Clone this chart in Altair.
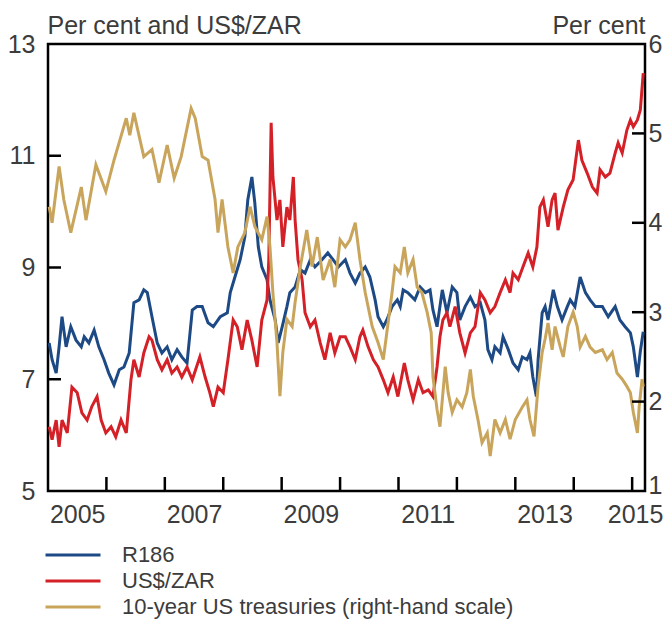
import altair as alt
import pandas as pd

# ---------------- data ----------------
r186_year = [2005.02, 2005.07, 2005.14, 2005.19, 2005.24, 2005.31, 2005.39, 2005.48, 2005.57, 2005.62,
             2005.70, 2005.79, 2005.87, 2005.96, 2006.04, 2006.13, 2006.22, 2006.30, 2006.39, 2006.47,
             2006.56, 2006.64, 2006.70, 2006.78, 2006.87, 2006.95, 2007.04, 2007.12, 2007.21, 2007.29,
             2007.38, 2007.47, 2007.55, 2007.64, 2007.74, 2007.83, 2007.95, 2008.07, 2008.12, 2008.20,
             2008.29, 2008.37, 2008.42, 2008.49, 2008.54, 2008.60, 2008.66, 2008.75, 2008.80, 2008.89,
             2008.94, 2009.01, 2009.09, 2009.14, 2009.23, 2009.32, 2009.40, 2009.49, 2009.57, 2009.69,
             2009.79, 2009.88, 2009.97, 2010.09, 2010.17, 2010.26, 2010.34, 2010.43, 2010.51, 2010.60,
             2010.65, 2010.74, 2010.80, 2010.89, 2010.98, 2011.03, 2011.08, 2011.16, 2011.28, 2011.37,
             2011.46, 2011.54, 2011.59, 2011.66, 2011.75, 2011.83, 2011.92, 2012.00, 2012.05, 2012.14,
             2012.23, 2012.31, 2012.40, 2012.48, 2012.53, 2012.60, 2012.65, 2012.74, 2012.79, 2012.88,
             2012.96, 2013.05, 2013.12, 2013.20, 2013.25, 2013.30, 2013.36, 2013.39, 2013.46, 2013.51,
             2013.56, 2013.65, 2013.72, 2013.80, 2013.89, 2013.94, 2014.02, 2014.11, 2014.20, 2014.28,
             2014.37, 2014.49, 2014.59, 2014.71, 2014.79, 2014.88, 2014.97, 2015.02, 2015.09, 2015.14,
             2015.19]
r186_value = [7.65, 7.35, 7.11, 7.58, 8.12, 7.58, 7.94, 7.70, 7.58, 7.76,
              7.65, 7.88, 7.58, 7.35, 7.11, 6.90, 7.17, 7.22, 7.47, 8.37,
              8.42, 8.60, 8.55, 8.12, 7.65, 7.47, 7.58, 7.35, 7.53, 7.40,
              7.29, 8.24, 8.30, 8.30, 8.01, 7.94, 8.12, 8.19, 8.55, 8.83,
              9.14, 9.55, 10.21, 10.62, 10.16, 9.37, 9.01, 8.78, 8.42, 8.06,
              7.65, 7.94, 8.30, 8.55, 8.65, 8.96, 8.90, 9.14, 9.01, 9.14,
              9.26, 9.14, 9.01, 9.14, 8.90, 8.72, 8.90, 9.01, 8.83, 8.42,
              8.12, 7.94, 8.06, 8.30, 8.42, 8.30, 8.60, 8.55, 8.42, 8.65,
              8.55, 8.60, 8.24, 7.94, 8.60, 8.19, 8.65, 8.55, 8.06, 8.30,
              8.47, 8.30, 8.37, 8.06, 7.53, 7.35, 7.58, 7.47, 7.76, 7.53,
              7.29, 7.17, 7.40, 7.35, 7.47, 7.04, 6.69, 7.35, 8.19, 8.30,
              8.06, 8.60, 8.30, 8.06, 8.30, 8.42, 8.30, 8.83, 8.55, 8.42,
              8.30, 8.30, 8.12, 8.30, 8.06, 7.94, 7.83, 7.58, 7.04, 7.50,
              7.85]

zar_year = [2005.02, 2005.07, 2005.14, 2005.19, 2005.24, 2005.33, 2005.41, 2005.50, 2005.58, 2005.67,
            2005.75, 2005.84, 2005.91, 2005.99, 2006.08, 2006.16, 2006.25, 2006.34, 2006.42, 2006.47,
            2006.56, 2006.64, 2006.73, 2006.78, 2006.87, 2006.95, 2007.04, 2007.12, 2007.21, 2007.29,
            2007.38, 2007.47, 2007.60, 2007.69, 2007.77, 2007.83, 2007.91, 2008.00, 2008.08, 2008.17,
            2008.24, 2008.32, 2008.41, 2008.49, 2008.58, 2008.66, 2008.75, 2008.78, 2008.82, 2008.85,
            2008.92, 2008.97, 2009.02, 2009.09, 2009.14, 2009.20, 2009.23, 2009.28, 2009.35, 2009.40,
            2009.49, 2009.57, 2009.66, 2009.74, 2009.83, 2009.91, 2010.00, 2010.09, 2010.17, 2010.26,
            2010.34, 2010.39, 2010.48, 2010.57, 2010.65, 2010.74, 2010.82, 2010.91, 2010.99, 2011.10,
            2011.16, 2011.25, 2011.34, 2011.42, 2011.51, 2011.59, 2011.66, 2011.71, 2011.76, 2011.83,
            2011.88, 2011.97, 2012.05, 2012.14, 2012.23, 2012.31, 2012.40, 2012.48, 2012.57, 2012.65,
            2012.74, 2012.83, 2012.91, 2012.96, 2013.05, 2013.13, 2013.22, 2013.30, 2013.37, 2013.42,
            2013.48, 2013.56, 2013.63, 2013.68, 2013.73, 2013.82, 2013.90, 2013.99, 2014.08, 2014.14,
            2014.23, 2014.32, 2014.40, 2014.45, 2014.54, 2014.62, 2014.71, 2014.76, 2014.83, 2014.91,
            2014.97, 2015.02, 2015.09, 2015.14, 2015.19]
zar_value = [6.15, 5.92, 6.27, 5.79, 6.27, 6.04, 6.86, 6.76, 6.40, 6.27,
             6.51, 6.69, 6.27, 6.04, 6.15, 5.97, 6.27, 6.04, 6.99, 7.35,
             7.04, 7.47, 7.76, 7.70, 7.35, 7.17, 7.35, 7.11, 7.22, 7.04,
             7.22, 6.99, 7.40, 7.04, 6.76, 6.51, 6.86, 6.76, 7.35, 8.06,
             7.94, 7.53, 8.06, 7.70, 7.22, 8.06, 8.42, 9.14, 11.59, 10.62,
             9.85, 10.21, 9.37, 10.08, 9.85, 10.62, 9.85, 9.14, 8.78, 8.19,
             7.94, 8.06, 7.65, 7.35, 7.83, 7.47, 7.76, 7.76, 7.58, 7.35,
             7.76, 7.88, 7.58, 7.35, 7.22, 6.99, 6.76, 7.04, 6.69, 7.29,
             6.99, 6.63, 6.99, 6.76, 6.81, 6.69, 7.22, 7.76, 8.06, 8.19,
             7.94, 8.30, 7.83, 7.47, 7.83, 7.94, 8.55, 8.42, 8.19, 8.30,
             8.55, 8.78, 8.55, 8.90, 8.78, 9.01, 9.26, 9.01, 9.37, 10.08,
             10.21, 9.73, 10.21, 10.33, 9.67, 10.08, 10.39, 10.57, 11.28, 10.92,
             10.69, 10.44, 10.33, 10.75, 10.62, 10.69, 11.05, 11.23, 11.05, 11.46,
             11.64, 11.52, 11.64, 11.82, 12.48]

ust_year = [2005.02, 2005.07, 2005.19, 2005.27, 2005.39, 2005.57, 2005.65, 2005.82, 2005.99, 2006.13,
            2006.34, 2006.40, 2006.47, 2006.64, 2006.78, 2006.90, 2007.04, 2007.16, 2007.28, 2007.45,
            2007.52, 2007.64, 2007.74, 2007.86, 2007.91, 2007.98, 2008.08, 2008.17, 2008.25, 2008.37,
            2008.46, 2008.54, 2008.66, 2008.75, 2008.80, 2008.85, 2008.92, 2008.97, 2009.02, 2009.09,
            2009.18, 2009.23, 2009.32, 2009.43, 2009.52, 2009.61, 2009.71, 2009.83, 2009.91, 2010.00,
            2010.09, 2010.17, 2010.26, 2010.34, 2010.43, 2010.55, 2010.65, 2010.74, 2010.80, 2010.89,
            2010.94, 2011.03, 2011.10, 2011.16, 2011.25, 2011.32, 2011.40, 2011.49, 2011.56, 2011.59,
            2011.66, 2011.71, 2011.80, 2011.85, 2011.92, 2012.00, 2012.09, 2012.17, 2012.23, 2012.28,
            2012.36, 2012.43, 2012.52, 2012.57, 2012.65, 2012.74, 2012.83, 2012.91, 2013.00, 2013.12,
            2013.20, 2013.25, 2013.32, 2013.39, 2013.46, 2013.51, 2013.56, 2013.63, 2013.68, 2013.77,
            2013.82, 2013.90, 2013.99, 2014.06, 2014.11, 2014.20, 2014.28, 2014.37, 2014.49, 2014.57,
            2014.66, 2014.74, 2014.83, 2014.91, 2014.97, 2015.02, 2015.09, 2015.12, 2015.17, 2015.19]
ust_value = [4.18, 4.00, 4.63, 4.26, 3.89, 4.40, 4.03, 4.65, 4.35, 4.70,
             5.17, 4.98, 5.23, 4.74, 4.82, 4.45, 4.87, 4.50, 4.74, 5.28,
             5.17, 4.74, 4.70, 4.26, 3.89, 4.26, 3.73, 3.44, 3.73, 3.89,
             4.18, 3.96, 3.81, 4.07, 3.73, 3.22, 2.66, 2.06, 2.55, 2.92,
             2.84, 3.11, 3.51, 3.92, 3.51, 3.84, 3.36, 3.59, 3.28, 3.81,
             3.73, 3.81, 4.00, 3.59, 3.22, 2.84, 2.66, 2.47, 2.77, 3.22,
             3.51, 3.44, 3.73, 3.44, 3.59, 3.28, 3.22, 3.00, 2.77, 2.28,
             1.91, 1.72, 2.39, 2.10, 1.88, 2.02, 1.94, 2.10, 2.36, 2.06,
             1.80, 1.54, 1.65, 1.39, 1.80, 1.65, 1.80, 1.58, 1.80, 1.94,
             2.02, 1.80, 1.61, 2.17, 2.55, 2.70, 2.88, 2.58, 2.84, 2.61,
             2.50, 2.84, 3.00, 2.84, 2.61, 2.73, 2.61, 2.55, 2.58, 2.47,
             2.55, 2.32, 2.25, 2.17, 2.10, 1.88, 1.65, 1.94, 2.25, 2.17]

series_names = ["R186", "US$/ZAR", "10-year US treasuries (right-hand scale)"]
series_colors = ["#1d4a85", "#d42027", "#c9a55c"]

left_axis_labels = [5, 7, 9, 11, 13]
left_inner_ticks = [7, 9, 11]
right_axis_labels = [1, 2, 3, 4, 5, 6]
right_inner_ticks = [2, 3, 4, 5]
year_ticks = [2006, 2007, 2008, 2009, 2010, 2011, 2012, 2013, 2014, 2015]
year_label_pos = [2005.5, 2007.5, 2009.5, 2011.5, 2013.5, 2015.05]

# ---------------- layout / style ----------------
W, H = 597, 447
TICK = 13
FONT = "Liberation Sans"
TXT = "#3c3c3c"

df_r186 = pd.DataFrame({"year": r186_year, "value": r186_value, "series": series_names[0]})
df_zar = pd.DataFrame({"year": zar_year, "value": zar_value, "series": series_names[1]})
df_ust = pd.DataFrame({"year": ust_year, "value": ust_value, "series": series_names[2]})

x_scale = alt.Scale(domain=[2005.0, 2015.22], nice=False, zero=False)
x_axis = alt.Axis(values=year_label_pos, labelExpr="format(floor(datum.value), 'd')",
                  ticks=False, domain=False, grid=False, title=None,
                  labelFontSize=25, labelColor=TXT, labelPadding=11,
                  labelFlush=False, labelOverlap=False, labelFont=FONT)
x_enc = alt.X("year:Q", scale=x_scale, axis=x_axis)

left_scale = alt.Scale(domain=[5, 13], nice=False, zero=False)
right_scale = alt.Scale(domain=[1, 6], nice=False, zero=False)

left_axis = alt.Axis(orient="left", values=left_axis_labels, ticks=False, domain=False,
                     grid=False, labelFontSize=25, labelColor=TXT, labelPadding=13,
                     labelFont=FONT,
                     title="Per cent and US$/ZAR", titleAngle=0, titleX=-1, titleY=-11,
                     titleAlign="left", titleBaseline="alphabetic", titleFontSize=25,
                     titleFontWeight="normal", titleColor=TXT, titleFont=FONT)
right_axis = alt.Axis(orient="right", values=right_axis_labels, ticks=False, domain=False,
                      grid=False, labelFontSize=25, labelColor=TXT, labelPadding=3,
                      labelFont=FONT,
                      labelOffset={"condition": {"test": "datum.value == 1", "value": -6}, "value": 0},
                      title="Per cent", titleAngle=0, titleX=0, titleY=-11,
                      titleAlign="right", titleBaseline="alphabetic", titleFontSize=25,
                      titleFontWeight="normal", titleColor=TXT, titleFont=FONT)

color = alt.Color("series:N", scale=alt.Scale(domain=series_names, range=series_colors),
                  legend=alt.Legend(title=None, orient="none", legendX=-4, legendY=501,
                                    direction="vertical", symbolType="stroke", symbolSize=3025,
                                    symbolStrokeWidth=3, clipHeight=20, rowPadding=4,
                                    labelFontSize=22, labelColor=TXT, labelOffset=20,
                                    labelLimit=600, padding=0, labelFont=FONT))

LW = 3
# every layer gets its own (independent) y scale, but the domains are fixed,
# so the left-hand layers all share 5-13 and the right-hand layers 1-6
blue = alt.Chart(df_r186).mark_line(strokeWidth=LW).encode(
    x=x_enc, y=alt.Y("value:Q", scale=left_scale, axis=left_axis), color=color)
red = alt.Chart(df_zar).mark_line(strokeWidth=LW).encode(
    x=x_enc, y=alt.Y("value:Q", scale=left_scale, axis=None), color=color)
gold = alt.Chart(df_ust).mark_line(strokeWidth=LW).encode(
    x=x_enc, y=alt.Y("value:Q", scale=right_scale, axis=right_axis), color=color)

left_ticks_layer = alt.Chart(pd.DataFrame({"value": left_inner_ticks})).mark_rule(
    color="black", strokeWidth=2.5).encode(
    y=alt.Y("value:Q", scale=left_scale, axis=None), x=alt.value(0), x2=alt.value(TICK))
right_ticks_layer = alt.Chart(pd.DataFrame({"value": right_inner_ticks})).mark_rule(
    color="black", strokeWidth=2.5).encode(
    y=alt.Y("value:Q", scale=right_scale, axis=None), x=alt.value(W - TICK), x2=alt.value(W))
bottom_ticks_layer = alt.Chart(pd.DataFrame({"year": year_ticks})).mark_rule(
    color="black", strokeWidth=2.5).encode(
    x=x_enc, y=alt.value(H - TICK - 1), y2=alt.value(H))

chart = (
    alt.layer(blue, red, gold, left_ticks_layer, right_ticks_layer, bottom_ticks_layer)
    .resolve_scale(y="independent")
    .properties(width=W, height=H,
                padding={"left": 40, "top": 36, "right": 19, "bottom": 128},
                autosize=alt.AutoSizeParams(type="none"),
                background="white")
    .configure(font=FONT)
    .configure_view(stroke="black", strokeWidth=2.5)
)

chart.save("out.html", embed_options={"renderer": "svg", "actions": False})
